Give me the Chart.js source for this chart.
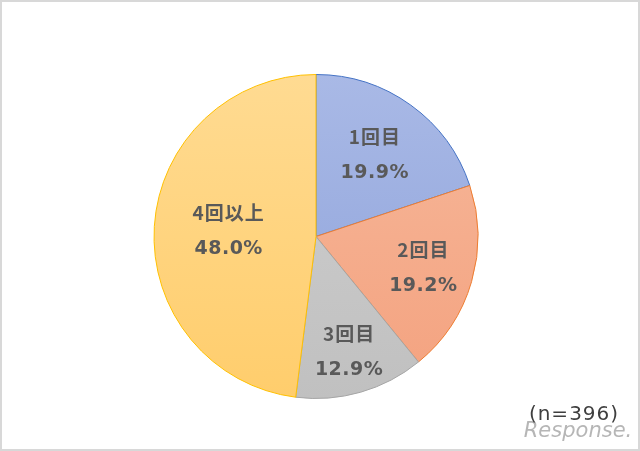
<!DOCTYPE html>
<html>
<head>
<meta charset="utf-8">
<script src="https://cdn.jsdelivr.net/npm/chart.js@4/dist/chart.umd.min.js"></script>
<style>
html,body{margin:0;padding:0;background:#fff;}
#wrap{position:relative;width:640px;height:451px;}
#frame{position:absolute;left:0;top:0;width:640px;height:451px;box-sizing:border-box;border:2px solid #d8d8d8;pointer-events:none;}
</style>
</head>
<body>
<div id="wrap">
<canvas id="c" width="640" height="451"></canvas>
<div id="frame"></div>
</div>
<script>
const categories = ['1回目', '2回目', '3回目', '4回以上'];
const values = [19.9, 19.2, 12.9, 48.0];
const sampleNote = '(n=396)';

const topColors = ['#a9b9e6', '#f6b89b', '#d0d0d0', '#ffdb92'];
const bottomColors = ['#8da2da', '#f4a27f', '#c0c0c0', '#ffcd6c'];
const borderColors = ['#4472c4', '#ed7d31', '#a5a5a5', '#ffc000'];
const labelRadius = [0.62, 0.69, 0.74, 0.54];

function gradFill(ctx) {
  const chart = ctx.chart;
  const area = chart.chartArea;
  if (!area || !isFinite(area.top) || !isFinite(area.bottom)) return topColors[ctx.dataIndex];
  const cy = (area.top + area.bottom) / 2;
  const r = Math.min(area.right - area.left, area.bottom - area.top) / 2;
  const g = chart.ctx.createLinearGradient(0, cy - r, 0, cy + r);
  g.addColorStop(0, topColors[ctx.dataIndex]);
  g.addColorStop(1, bottomColors[ctx.dataIndex]);
  return g;
}

const labelPlugin = {
  id: 'sliceLabels',
  afterDatasetsDraw(chart) {
    const ctx = chart.ctx;
    const meta = chart.getDatasetMeta(0);
    ctx.save();
    ctx.fillStyle = '#595959';
    ctx.textAlign = 'center';
    ctx.textBaseline = 'middle';
    meta.data.forEach((arc, i) => {
      const mid = (arc.startAngle + arc.endAngle) / 2;
      const rr = arc.outerRadius * labelRadius[i];
      const x = arc.x + Math.cos(mid) * rr;
      const y = arc.y + Math.sin(mid) * rr;
      ctx.letterSpacing = '1px';
      ctx.font = 'bold 19px "Noto Sans CJK JP", sans-serif';
      ctx.fillText(categories[i], x, y - 18);
      ctx.letterSpacing = '0.5px';
      ctx.font = 'bold 19px "DejaVu Sans", sans-serif';
      ctx.fillText(values[i].toFixed(1) + '%', x, y + 18);
    });
    ctx.font = 'italic 21px "DejaVu Sans", sans-serif';
    ctx.letterSpacing = '0px';
    ctx.fillStyle = 'rgba(110,110,110,0.5)';
    ctx.fillText('Response.', 578, 432);
    ctx.font = '20px "DejaVu Sans", sans-serif';
    ctx.letterSpacing = '1px';
    ctx.fillStyle = '#3f3f3f';
    ctx.fillText(sampleNote, 574, 415);
    ctx.restore();
  }
};

new Chart(document.getElementById('c'), {
  type: 'pie',
  data: {
    labels: categories,
    datasets: [{
      data: values,
      backgroundColor: gradFill,
      borderColor: borderColors,
      borderWidth: 1
    }]
  },
  options: {
    responsive: false,
    animation: false,
    layout: { padding: { left: 0, right: 8, top: 74, bottom: 52 } },
    plugins: {
      legend: { display: false },
      tooltip: { enabled: false }
    }
  },
  plugins: [labelPlugin]
});
</script>
</body>
</html>
